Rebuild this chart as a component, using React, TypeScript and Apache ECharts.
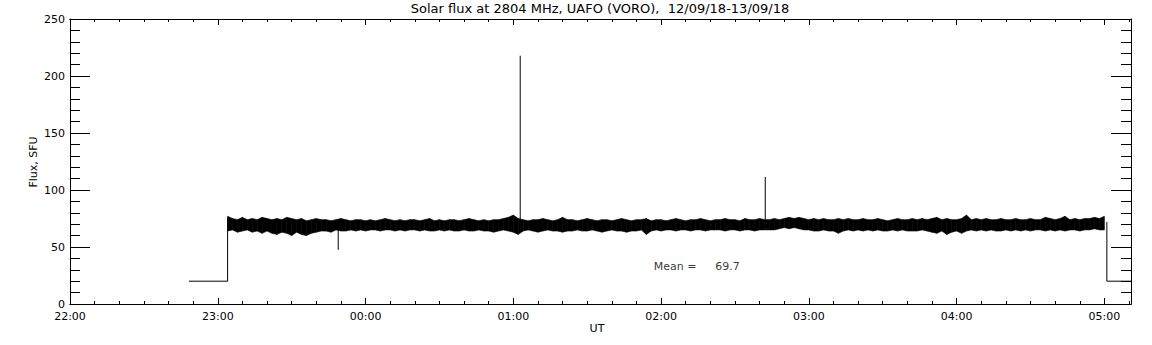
import React, { useEffect, useRef } from "react";
import * as echarts from "echarts";

// Time is in minutes since 00:00 of 12/09/18 (so 22:00 = 1320, 05:00 next day = 1740)
const xMin = 1320;
const xMax = 1750.8;
const yMin = 0;
const yMax = 250;

const titleText = "Solar flux at 2804 MHz, UAFO (VORO),  12/09/18-13/09/18";
const yName = "Flux, SFU";
const xName = "UT";
const meanLabel = "Mean =";
const meanValue = 69.7;
const meanPos = [1557, 32.5];
const meanValuePos = [1582, 32.5];

// Noise band of the 1-second flux record: 2-minute envelope samples from 23:04
const bandStart = 1384;
const bandStep = 2;
const bandUpper = [
  77, 75, 74, 76, 74, 75, 74, 76, 75, 74,
  75, 74, 76, 75, 74, 75, 73, 74, 75, 74,
  74, 73, 74, 75, 74, 73, 74, 74, 73, 74,
  73, 74, 75, 74, 73, 74, 73, 74, 74, 73,
  74, 75, 73, 74, 73, 74, 74, 73, 74, 75,
  74, 73, 74, 73, 74, 74, 75, 76, 78, 75,
  74, 73, 74, 74, 75, 74, 73, 74, 76, 74,
  74, 73, 74, 75, 74, 73, 74, 74, 73, 74,
  75, 74, 73, 74, 74, 75, 73, 74, 74, 73,
  74, 75, 74, 73, 74, 74, 75, 74, 73, 74,
  74, 75, 74, 74, 73, 75, 74, 74, 75, 74,
  74, 75, 74, 75, 76, 75, 76, 75, 74, 75,
  74, 75, 74, 74, 75, 74, 75, 74, 74, 75,
  74, 74, 75, 74, 73, 74, 75, 74, 74, 75,
  74, 75, 74, 75, 76, 74, 75, 74, 74, 75,
  78, 74, 75, 74, 75, 74, 74, 75, 74, 74,
  75, 74, 74, 75, 74, 74, 76, 75, 74, 75,
  77, 74, 75, 74, 75, 75, 76, 75, 77,
];
const bandLower = [
  64, 65, 63, 64, 65, 63, 64, 62, 64, 62,
  61, 63, 62, 60, 63, 61, 60, 62, 63, 64,
  64, 63, 65, 64, 64, 65, 64, 65, 64, 65,
  65, 64, 65, 65, 64, 65, 64, 65, 65, 64,
  65, 64, 64, 65, 64, 65, 64, 64, 65, 64,
  64, 65, 64, 64, 63, 64, 65, 64, 63, 61,
  64, 65, 64, 63, 64, 65, 64, 64, 63, 64,
  64, 65, 64, 64, 65, 64, 63, 64, 65, 64,
  64, 63, 64, 64, 65, 61, 64, 65, 64, 65,
  65, 64, 65, 65, 64, 65, 65, 64, 65, 65,
  65, 64, 65, 65, 64, 65, 65, 64, 65, 65,
  65, 65, 66, 67, 66, 67, 66, 65, 65, 64,
  64, 65, 64, 64, 62, 64, 65, 64, 65, 64,
  65, 64, 65, 64, 64, 65, 64, 65, 64, 64,
  64, 65, 64, 63, 62, 64, 61, 63, 64, 62,
  64, 65, 64, 65, 64, 65, 64, 64, 65, 64,
  65, 64, 65, 64, 65, 65, 64, 65, 64, 65,
  64, 65, 65, 64, 65, 65, 66, 65, 65,
];

// Step segments before/after the observation
const startSegment = [[1368.3, 20], [1384, 20], [1384, 76]];
const endSegment = [[1741, 72], [1741, 20], [1750.8, 20]];

// Isolated spikes / dips: [time, base, extreme]
const spikeTimes = [1428.9, 1502.8, 1602.3];
const spikeBase = [66, 74, 74];
const spikePeak = [47.5, 217.8, 111.4];

const FONT = "DejaVu Sans";

function hourLabel(v: number): string {
  if (Math.abs(v % 60) > 1e-6) return "";
  const h = Math.round(v / 60) % 24;
  return (h < 10 ? "0" : "") + h + ":00";
}

export default function App() {
  const ref = useRef<HTMLDivElement>(null);
  useEffect(() => {
    if (!ref.current) return;
    const chart = echarts.init(ref.current, null, { renderer: "svg" });

    const bandData = bandUpper.map((u, i) => [bandStart + i * bandStep, u, bandLower[i]]);

    const axisLine = { show: true, lineStyle: { color: "#000", width: 1 } };
    const baseX = {
      type: "value",
      min: xMin,
      max: xMax,
      splitLine: { show: false },
      axisLine,
    };
    const minorX = (pos: string) => ({
      ...baseX,
      position: pos,
      interval: 10,
      axisTick: { show: true, inside: true, length: 3, lineStyle: { color: "#000" } },
      axisLabel: { show: false },
    });
    const majorX = (pos: string, labels: boolean) => ({
      ...baseX,
      position: pos,
      interval: 60,
      axisTick: { show: true, inside: true, length: 6, lineStyle: { color: "#000" } },
      axisLabel: {
        show: labels,
        formatter: hourLabel,
        color: "#000",
        fontFamily: FONT,
        fontSize: 11,
        margin: 7,
        showMaxLabel: false,
      },
    });
    const yAx = (pos: string, labels: boolean) => ({
      type: "value",
      position: pos,
      min: yMin,
      max: yMax,
      interval: 50,
      splitLine: { show: false },
      axisLine,
      axisTick: { show: true, inside: true, length: 20, lineStyle: { color: "#000" } },
      minorTick: { show: true, splitNumber: 5, length: 10, lineStyle: { color: "#000" } },
      axisLabel: {
        show: labels,
        color: "#000",
        fontFamily: FONT,
        fontSize: 11,
        margin: 5,
      },
    });

    const lineStyle = { color: "#000", width: 1 };
    const lineSeries = (data: number[][]) => ({
      type: "line",
      data,
      xAxisIndex: 0,
      yAxisIndex: 0,
      symbol: "none",
      lineStyle,
      silent: true,
      z: 3,
    });

    const series: any[] = [
      {
        type: "custom",
        xAxisIndex: 0,
        yAxisIndex: 0,
        data: bandData,
        encode: { x: 0, y: [1, 2] },
        silent: true,
        z: 2,
        renderItem: (params: any, api: any) => {
          const i = params.dataIndex;
          if (i >= bandData.length - 1) return null;
          const a = bandData[i];
          const b = bandData[i + 1];
          const pts = [
            api.coord([a[0], a[1]]),
            api.coord([b[0], b[1]]),
            api.coord([b[0], b[2]]),
            api.coord([a[0], a[2]]),
          ];
          return {
            type: "polygon",
            shape: { points: pts },
            style: { fill: "#000", stroke: "#000", lineWidth: 0.6 },
          };
        },
      },
      lineSeries(startSegment),
      lineSeries(endSegment),
      ...spikeTimes.map((t, i) => lineSeries([[t, spikeBase[i]], [t, spikePeak[i]]])),
      {
        type: "scatter",
        xAxisIndex: 0,
        yAxisIndex: 0,
        symbolSize: 0,
        silent: true,
        data: [
          { value: meanPos, label: { formatter: meanLabel } },
          { value: meanValuePos, label: { formatter: meanValue.toFixed(1) } },
        ],
        label: {
          show: true,
          position: "right",
          distance: 0,
          color: "#000",
          fontFamily: FONT,
          fontSize: 11,
        },
      },
    ];

    chart.setOption({
      animation: false,
      backgroundColor: "#fff",
      grid: { left: 70, top: 19, right: 21, bottom: 41, containLabel: false },
      xAxis: [minorX("bottom"), majorX("bottom", true), minorX("top"), majorX("top", false)],
      yAxis: [yAx("left", true), yAx("right", false)],
      graphic: [
        {
          type: "text",
          x: 600,
          y: 2,
          style: { text: titleText, font: `13px '${FONT}'`, fill: "#000", align: "center", verticalAlign: "top" },
        },
        {
          type: "text",
          x: 33,
          y: 162,
          rotation: Math.PI / 2,
          style: { text: yName, font: `11px '${FONT}'`, fill: "#000", align: "center", verticalAlign: "middle" },
        },
        {
          type: "text",
          x: 597,
          y: 328,
          style: { text: xName, font: `11px '${FONT}'`, fill: "#000", align: "center", verticalAlign: "middle" },
        },
      ],
      series,
    });
    return () => chart.dispose();
  }, []);
  return (
    <div
      ref={ref}
      style={{ position: "fixed", left: 0, top: 0, width: 1152, height: 345, background: "#fff" }}
    />
  );
}
